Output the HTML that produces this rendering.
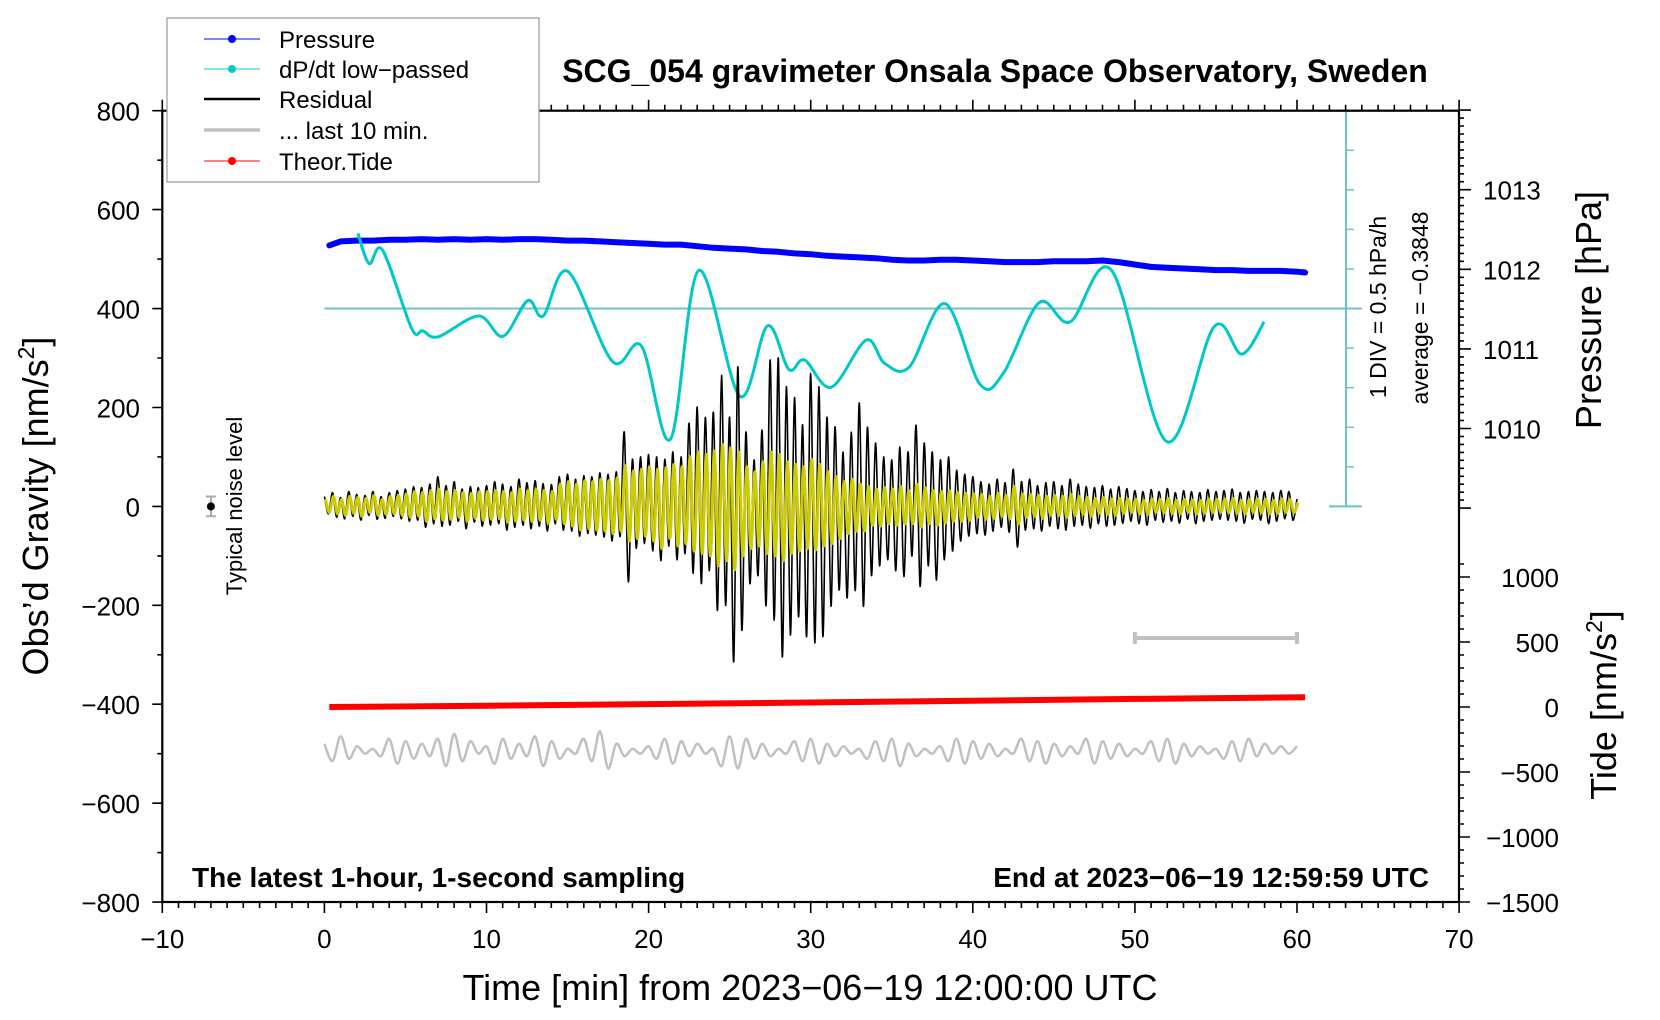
<!DOCTYPE html>
<html><head><meta charset="utf-8"><style>
html,body{margin:0;padding:0;background:#fff;}
svg{display:block;font-family:"Liberation Sans",Arial,sans-serif;}
</style></head><body>
<svg id="chart" width="1660" height="1020" viewBox="0 0 1660 1020" xmlns="http://www.w3.org/2000/svg">
<rect x="0" y="0" width="1660" height="1020" fill="#fff"/>
<g id="marks"></g>
<g id="axes"></g>
<text x="995" y="82" font-size="32" font-weight="bold" text-anchor="middle">SCG_054 gravimeter Onsala Space Observatory, Sweden</text>
<text x="192" y="887" font-size="28" font-weight="bold">The latest 1-hour, 1-second sampling</text>
<text x="1429" y="887" font-size="28" font-weight="bold" text-anchor="end">End at 2023−06−19 12:59:59 UTC</text>
<text x="810" y="1000" font-size="36" text-anchor="middle">Time [min] from 2023−06−19 12:00:00 UTC</text>
<text transform="translate(48,506) rotate(-90)" font-size="36" text-anchor="middle">Obs’d Gravity [nm/s<tspan font-size="23" dy="-14">2</tspan><tspan dy="14">]</tspan></text>
<text transform="translate(1601,310) rotate(-90)" font-size="36" text-anchor="middle">Pressure [hPa]</text>
<text transform="translate(1616,705) rotate(-90)" font-size="36" text-anchor="middle">Tide [nm/s<tspan font-size="23" dy="-14">2</tspan><tspan dy="14">]</tspan></text>
<text transform="translate(1386,307) rotate(-90)" font-size="23" text-anchor="middle">1 DIV = 0.5 hPa/h</text>
<text transform="translate(1428,308) rotate(-90)" font-size="23" text-anchor="middle">average = −0.3848</text>
<text transform="translate(242,506) rotate(-90)" font-size="22" text-anchor="middle">Typical noise level</text>
<g>
<rect x="167" y="18" width="372" height="164" fill="#fff" stroke="#999" stroke-width="1.2"/>
<g><line x1="204" y1="39" x2="260" y2="39" stroke="#00f" stroke-width="1"/><circle cx="232" cy="39" r="4" fill="#00f"/><text x="279" y="48" font-size="24">Pressure</text></g>
<g><line x1="204" y1="69" x2="260" y2="69" stroke="#00cccc" stroke-width="1"/><circle cx="232" cy="69" r="4" fill="#00cccc"/><text x="279" y="78" font-size="24">dP/dt low−passed</text></g>
<g><line x1="204" y1="99" x2="260" y2="99" stroke="#000" stroke-width="2.5"/><text x="279" y="108" font-size="24">Residual</text></g>
<g><line x1="204" y1="130" x2="260" y2="130" stroke="#c0c0c0" stroke-width="3.5"/><text x="279" y="139" font-size="24">... last 10 min.</text></g>
<g><line x1="204" y1="161" x2="260" y2="161" stroke="#f00" stroke-width="1"/><circle cx="232" cy="161" r="4" fill="#f00"/><text x="279" y="170" font-size="24">Theor.Tide</text></g>
</g>
</svg>
<script>
// ---- data ----
const residual = [20,-15,28,-22,18,-25,30,-20,24,-28,22,-18,30,-26,20,-24,28,-20,32,-25,
35,-30,40,-28,38,-42,45,-35,60,-40,42,-38,50,-30,35,-45,40,-32,38,-40,
42,-38,50,-35,45,-48,40,-42,55,-38,48,-45,52,-40,46,-50,44,-35,60,-48,
65,-50,55,-60,62,-55,60,-58,68,-62,65,-70,70,-60,150,-152,95,-85,100,-75,
105,-90,100,-110,95,-80,110,-108,100,-95,168,-135,201,-156,180,-130,190,-210,265,-200,
180,-314,282,-250,150,-156,94,-140,154,-200,296,-230,300,-304,242,-260,220,-223,165,-263,
269,-276,242,-263,180,-202,161,-169,110,-185,150,-170,209,-202,160,-140,128,-120,100,-108,
94,-130,120,-142,110,-100,164,-162,128,-120,110,-149,94,-108,100,-90,73,-70,65,-60,
60,-55,50,-58,45,-50,55,-42,48,-52,75,-82,50,-48,55,-45,42,-50,48,-40,
50,-45,42,-48,55,-40,45,-38,40,-44,38,-35,42,-40,35,-38,40,-34,36,-30,
32,-35,30,-38,34,-28,30,-32,36,-30,28,-34,32,-26,30,-35,28,-30,34,-28,
30,-26,32,-28,35,-30,28,-34,30,-26,32,-28,30,-35,28,-30,32,-25,30,-28,15];
const filtered = [15,-12,20,-15,14,-18,20,-14,18,-20,16,-12,22,-18,14,-16,20,-15,22,-18,
25,-22,30,-20,28,-30,32,-25,35,-28,30,-26,32,-22,28,-30,26,-24,30,-28,
30,-26,32,-25,30,-32,28,-30,35,-28,32,-30,35,-28,32,-34,30,-26,45,-35,
50,-40,45,-48,52,-45,50,-48,55,-50,52,-55,58,-50,82,-70,72,-65,75,-60,
80,-70,75,-85,78,-65,85,-80,80,-75,100,-90,110,-95,105,-100,112,-120,125,-110,
118,-128,110,-100,80,-85,70,-80,90,-95,110,-100,105,-110,90,-95,85,-90,80,-85,
95,-88,85,-80,70,-75,60,-65,50,-55,55,-50,45,-50,40,-38,35,-40,38,-35,
35,-38,40,-36,32,-35,45,-42,38,-35,32,-38,30,-34,32,-30,28,-30,26,-28,
25,-22,24,-26,20,-24,26,-20,22,-25,40,-35,25,-22,24,-20,22,-24,20,-18,
22,-18,20,-22,24,-18,20,-16,18,-20,16,-14,18,-16,15,-18,16,-14,15,-12,
14,-15,12,-16,15,-12,14,-13,16,-14,12,-15,14,-12,13,-15,12,-14,15,-12,
14,-12,15,-13,16,-14,12,-15,14,-12,15,-13,14,-15,12,-14,15,-12,14,-12,8];
const residualStep = 0.25;
const last10 = [-480,-515,-465,-510,-485,-500,-490,-505,-470,-520,-475,-510,-480,-505,-470,-525,-460,-515,-475,-500,-485,-520,-470,-510,-480,-505,-465,-525,-475,-510,-490,-500,-470,-515,-455,-530,-480,-505,-490,-500,-485,-510,-470,-520,-475,-505,-480,-500,-490,-525,-465,-530,-470,-510,-480,-505,-490,-500,-475,-515,-470,-520,-480,-505,-485,-500,-490,-510,-475,-515,-470,-525,-480,-505,-490,-500,-485,-515,-470,-520,-475,-510,-480,-505,-490,-500,-470,-515,-475,-520,-480,-505,-485,-500,-470,-520,-475,-510,-480,-505,-490,-500,-475,-515,-470,-520,-480,-505,-485,-500,-490,-510,-475,-515,-470,-505,-480,-500,-485,-500,-485];
const last10Start = 0, last10End = 60;
const pressureTimes = [0.3,1,2,3,4,5,6,7,8,9,10,11,12,13,14,15,16,17,18,19,20,21,22,23,24,25,26,27,28,29,30,31,32,33,34,35,36,37,38,39,40,41,42,43,44,45,46,47,48,49,50,51,52,53,54,55,56,57,58,59,60,60.5];
const pressureHPa = [1012.30,1012.35,1012.36,1012.36,1012.37,1012.37,1012.38,1012.37,1012.38,1012.37,1012.38,1012.37,1012.38,1012.38,1012.37,1012.36,1012.36,1012.35,1012.34,1012.33,1012.32,1012.31,1012.31,1012.29,1012.27,1012.26,1012.25,1012.23,1012.22,1012.20,1012.19,1012.17,1012.16,1012.15,1012.14,1012.12,1012.11,1012.11,1012.12,1012.12,1012.11,1012.10,1012.09,1012.09,1012.09,1012.10,1012.10,1012.10,1012.11,1012.09,1012.06,1012.03,1012.02,1012.01,1012.00,1011.99,1011.99,1011.98,1011.98,1011.98,1011.97,1011.96];
const dpdtTimes = [2.07,2.76,3.59,5.38,6.07,7.03,9.51,11.02,12.54,13.5,15.02,17.77,19.56,21.35,23.09,25.62,27.33,28.65,29.62,31.27,33.41,34.57,36.09,38.28,40.44,41.88,44.1,46.0,48.57,51.96,54.88,56.59,57.97];
const dpdtValues = [552,491,518,360,355,343,385,344,416,385,475,293,324,136,477,223,365,277,296,241,336,289,282,410,247,269,412,373,477,131,363,308,373];
const tideTimes = [0.3,10,20,30,40,50,60.5];
const tideValues = [0,10,22,35,48,62,75];
const xTicks = [-10,0,10,20,30,40,50,60,70];
const yTicks = [800,600,400,200,0,-200,-400,-600,-800];
const pressureTicks = [1013,1012,1011,1010];
const tideTicks = [1000,500,0,-500,-1000,-1500];

// ---- scales ----
const NS='http://www.w3.org/2000/svg';
const xs = t => 324.4 + 16.21*t;
const yg = g => 506.4 - 0.4946*g;
const yp = p => 269.3 - (p-1012)*79.6;
const yt = v => 707 - 0.13*v;
const L=162.3, R=1459, T=110.7, B=902;
const marks=document.getElementById('marks'), axes=document.getElementById('axes');
function mk(tag, attrs, parent){const e=document.createElementNS(NS,tag);for(const k in attrs)e.setAttribute(k,attrs[k]);(parent||marks).appendChild(e);return e;}
const f=n=>n.toFixed(1);
function fmt(v){return v<0?'\u2212'+Math.abs(v):String(v);}
function smooth(P){let d='M'+f(P[0][0])+' '+f(P[0][1]);
 for(let i=0;i<P.length-1;i++){const p0=P[i-1]||P[i],p1=P[i],p2=P[i+1],p3=P[i+2]||P[i+1];
  d+='C'+f(p1[0]+(p2[0]-p0[0])/6)+' '+f(p1[1]+(p2[1]-p0[1])/6)+' '+f(p2[0]-(p3[0]-p1[0])/6)+' '+f(p2[1]-(p3[1]-p1[1])/6)+' '+f(p2[0])+' '+f(p2[1]);}
 return d;}

let e;
e=mk('line',{x1:xs(0),y1:yg(400),x2:1362,y2:yg(400),stroke:'#6cc4c4','stroke-width':2});


e=mk('line',{x1:1346,y1:T,x2:1346,y2:yg(0),stroke:'#6cc4c4','stroke-width':2});


for(let i=0;i<=10;i++){const y=T+(yg(0)-T)*i/10;const big=(i===0||i===10);
 e=mk('line',{x1:big?1329:1346,y1:y,x2:big?1362:1354,y2:y,stroke:'#6cc4c4','stroke-width':big?2:1.5});
 
 }

// pressure
{let d='';pressureTimes.forEach((t,i)=>{d+=(i?'L':'M')+f(xs(t))+' '+f(yp(pressureHPa[i]));});
 e=mk('path',{d:d,fill:'none',stroke:'#0000ff','stroke-width':6,'stroke-linejoin':'round','stroke-linecap':'round'});
 
 }

// dP/dt
e=mk('path',{d:smooth(dpdtTimes.map((t,i)=>[xs(t),yg(dpdtValues[i])])),fill:'none',stroke:'#00c8c8','stroke-width':3});



// residual and filtered
e=mk('path',{d:smooth(residual.map((v,i)=>[xs(i*residualStep),yg(v)])),fill:'none',stroke:'#000','stroke-width':1.6});


e=mk('path',{d:smooth(filtered.map((v,i)=>[xs(i*residualStep+0.06),yg(v)])),fill:'none',stroke:'#cccc00','stroke-width':3});



// last 10 min gray
{const st=(last10End-last10Start)/(last10.length-1);
 e=mk('path',{d:smooth(last10.map((v,i)=>[xs(last10Start+i*st),yg(v)])),fill:'none',stroke:'#c0c0c0','stroke-width':2.5});
 
 }

// tide
{let d='';tideTimes.forEach((t,i)=>{d+=(i?'L':'M')+f(xs(t))+' '+f(yt(tideValues[i]));});
 e=mk('path',{d:d,fill:'none',stroke:'#ff0000','stroke-width':6});
 
 }

e=mk('path',{d:`M${xs(50)} 638H${xs(60)}M${xs(50)} 632V644M${xs(60)} 632V644`,stroke:'#c0c0c0','stroke-width':4,fill:'none'});


e=mk('path',{d:`M${xs(-7)} ${yg(20)}V${yg(-20)}M${xs(-7)-5} ${yg(20)}H${xs(-7)+5}M${xs(-7)-5} ${yg(-20)}H${xs(-7)+5}`,stroke:'#aaa','stroke-width':2,fill:'none'});


e=mk('circle',{cx:xs(-7),cy:yg(0),r:4,fill:'#000'});



// ---- axes ----
e=mk('rect',{x:L,y:T,width:R-L,height:B-T,fill:'none',stroke:'#000','stroke-width':2.2},axes);


let tk='';
for(let t=-10;t<=70;t++){const x=xs(t),len=(t%10===0)?11:6;tk+=`M${f(x)} ${B}v${len}M${f(x)} ${T}v${-len}`;}
for(let g=-800;g<=800;g+=100){const y=yg(g),len=(g%200===0)?10:5;tk+=`M${L} ${f(y)}h${-len}`;}
for(let p=1009.0;p<=1014.0001;p+=0.1){const y=yp(p);if(y<T-1)continue;const maj=Math.abs(p-Math.round(p))<0.01;tk+=`M${R} ${f(y)}h${maj?12:5}`;}
for(let v=-1500;v<=1100;v+=100){const y=yt(v);tk+=`M${R} ${f(y)}h${(v%500===0)?11:5}`;}
e=mk('path',{d:tk,stroke:'#000','stroke-width':1.6,fill:'none'},axes);


xTicks.forEach(t=>{const el=mk('text',{x:xs(t),y:948,'font-size':26,'text-anchor':'middle'},axes);el.textContent=fmt(t);
 
 });
yTicks.forEach(g=>{const el=mk('text',{x:140,y:yg(g)+10,'font-size':26,'text-anchor':'end'},axes);el.textContent=fmt(g);
 
 });
pressureTicks.forEach(p=>{const el=mk('text',{x:1483,y:yp(p)+10,'font-size':26},axes);el.textContent=String(p);
 
 });
tideTicks.forEach(v=>{const el=mk('text',{x:1559,y:yt(v)+10,'font-size':26,'text-anchor':'end'},axes);el.textContent=fmt(v);
 
 });
</script>
</body></html>
